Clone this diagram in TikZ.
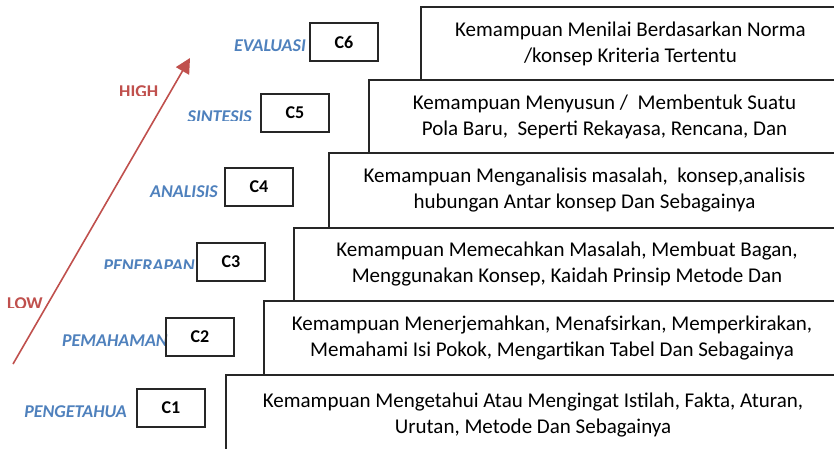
\documentclass[tikz,border=0pt]{standalone}
\usepackage{fontspec}
\setmainfont{Carlito}
\usetikzlibrary{arrows.meta}
\definecolor{lblue}{HTML}{4F81BD}
\definecolor{lred}{HTML}{C0504D}
\begin{document}
\begin{tikzpicture}[x=1pt,y=-1pt,
  bigbox/.style={draw=black!85, line width=1.2pt, anchor=north west, align=center,
    font=\fontsize{21}{26}\selectfont, inner sep=0pt, outer sep=0pt},
  cbox/.style={draw=black!85, line width=1.2pt, anchor=north west, minimum width=68pt,
    minimum height=38pt, font=\bfseries\fontsize{18}{20}\selectfont, inner sep=0pt, outer sep=0pt},
  level/.style={text=lblue, font=\bfseries\itshape\fontsize{18}{20}\selectfont, anchor=base east, inner sep=0pt},
  hl/.style={text=lred, font=\bfseries\fontsize{18}{20}\selectfont, anchor=base west, inner sep=0pt},
  uparrow/.style={draw=lred, line width=1.6pt, -{Triangle[length=15pt,width=15pt]}}]
\clip (0,0) rectangle (834,448);
\fill[white] (0,0) rectangle (834,448);

% big description boxes
\node[bigbox, minimum width=419pt, minimum height=73pt] (d6) at (421,7)
  {Kemampuan Menilai Berdasarkan Norma\\/konsep Kriteria Tertentu};
\node[bigbox, minimum width=471pt, minimum height=73pt] (d5) at (369,80)
  {Kemampuan Menyusun /\ \ Membentuk Suatu\\Pola Baru,\ \ Seperti Rekayasa, Rencana, Dan};
\node[bigbox, minimum width=511pt, minimum height=75pt] (d4) at (329,153)
  {Kemampuan Menganalisis masalah,\ \ konsep,analisis\\hubungan Antar konsep Dan Sebagainya};
\node[bigbox, minimum width=546pt, minimum height=73pt] (d3) at (294,228)
  {Kemampuan Memecahkan Masalah, Membuat Bagan,\\Menggunakan Konsep, Kaidah Prinsip Metode Dan};
\node[bigbox, minimum width=576pt, minimum height=74pt] (d2) at (264,301)
  {Kemampuan Menerjemahkan, Menafsirkan, Memperkirakan,\\Memahami Isi Pokok, Mengartikan Tabel Dan Sebagainya};
\node[bigbox, minimum width=614pt, minimum height=80pt] (d1) at (226,375)
  {Kemampuan Mengetahui Atau Mengingat Istilah, Fakta, Aturan,\\Urutan, Metode Dan Sebagainya};

% level labels
\node[level] (l6) at (306,51) {EVALUASI};
\begin{scope}
  \clip (150,100) rectangle (260,120);
  \node[level] (l5) at (252,122) {SINTESIS};
\end{scope}
\node[level] (l4) at (218,197) {ANALISIS};
\begin{scope}
  \clip (80,250) rectangle (197,268);
  \node[level] (l3) at (195,271) {PENERAPAN};
\end{scope}
\node[level] (l2) at (168,346) {PEMAHAMAN};
\node[level] (l1) at (127,417) {PENGETAHUA};

% C boxes
\node[cbox] (c6) at (310,23) {C6};
\node[cbox] (c5) at (261,94) {C5};
\node[cbox] (c4) at (225,168) {C4};
\node[cbox] (c3) at (197,243) {C3};
\node[cbox] (c2) at (166,318) {C2};
\node[cbox] (c1) at (137,389) {C1};

% HIGH / LOW
\begin{scope}
  \clip (100,75) rectangle (180,95);
  \node[hl] (high) at (119,97) {HIGH};
\end{scope}
\begin{scope}
  \clip (0,285) rectangle (60,307);
  \node[hl] (low) at (7,309) {LOW};
\end{scope}

% arrow
\coordinate (lo) at (13,364);
\coordinate (hi) at (190,58);
\draw[uparrow] (lo) -- (hi);
\end{tikzpicture}
\end{document}
